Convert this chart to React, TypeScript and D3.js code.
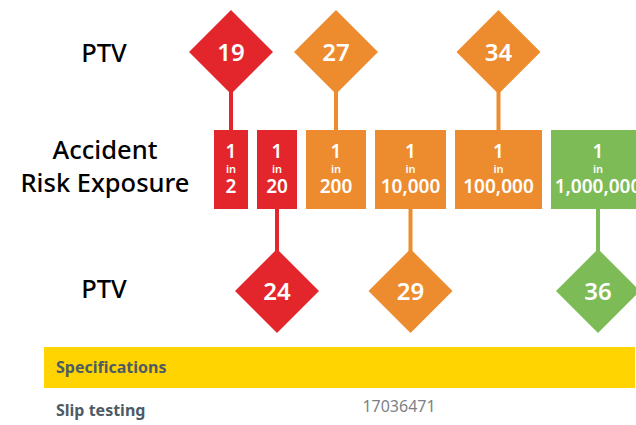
import React, { useEffect, useRef } from 'react';
import * as d3 from 'd3';

// risk exposure "1 in N" boxes
const riskDenominators = ['2', '20', '200', '10,000', '100,000', '1,000,000'];
const riskLevels = ['high', 'high', 'medium', 'medium', 'medium', 'low'];
// PTV value for each box, and whether the diamond sits above or below
const ptvValues = [19, 24, 27, 29, 34, 36];
const ptvSides = ['top', 'bottom', 'top', 'bottom', 'top', 'bottom'];
// spec table
const specHeader = 'Specifications';
const specNames = ['Slip testing'];
const specValues = ['17036471'];

const App: React.FC = () => {
  const svgRef = useRef<SVGSVGElement>(null);

  useEffect(() => {
    if (!svgRef.current) return;
    const svg = d3.select(svgRef.current);
    svg.selectAll('*').remove();

    const font = 'Noto Sans, sans-serif';
    const boxWidths = [34, 40, 60, 71, 87, 94];
    const gap = 9;
    const x0 = 214;
    const boxTop = 130;
    const boxBottom = 209;
    const topY = 52;
    const bottomY = 291;
    const half = 42;

    const color = d3.scaleOrdinal<string, string>()
      .domain(['high', 'medium', 'low'])
      .range(['#e3262b', '#ed8c2f', '#7cbb55']);

    const starts = boxWidths.map((w, i) => x0 + d3.sum(boxWidths.slice(0, i)) + gap * i);
    const data = riskDenominators.map((d, i) => ({
      label: d,
      level: riskLevels[i],
      ptv: ptvValues[i],
      side: ptvSides[i],
      x: starts[i],
      w: boxWidths[i],
      cx: starts[i] + boxWidths[i] / 2,
    }));

    // left labels
    const left = svg.append('g')
      .attr('font-family', font)
      .attr('font-weight', 500)
      .attr('font-size', 25.5)
      .attr('fill', '#000')
      .attr('text-anchor', 'middle');
    left.append('text').attr('x', 104).attr('y', 62).text('PTV');
    left.append('text').attr('x', 105).attr('y', 159).text('Accident');
    left.append('text').attr('x', 105).attr('y', 192).text('Risk Exposure');
    left.append('text').attr('x', 104).attr('y', 298).text('PTV');

    // connector stems
    svg.append('g')
      .selectAll('line')
      .data(data)
      .join('line')
      .attr('x1', d => d.cx)
      .attr('x2', d => d.cx)
      .attr('y1', d => d.side === 'top' ? topY : boxBottom - 2)
      .attr('y2', d => d.side === 'top' ? boxTop + 2 : bottomY)
      .attr('stroke', d => color(d.level))
      .attr('stroke-width', 4);

    // boxes
    const boxes = svg.append('g')
      .selectAll('g')
      .data(data)
      .join('g');
    boxes.append('rect')
      .attr('x', d => d.x)
      .attr('y', boxTop)
      .attr('width', d => d.w)
      .attr('height', boxBottom - boxTop)
      .attr('fill', d => color(d.level));
    const bt = boxes.append('text')
      .attr('font-family', font)
      .attr('font-weight', 600)
      .attr('fill', '#fff')
      .attr('text-anchor', 'middle');
    bt.append('tspan').attr('x', d => d.cx).attr('y', 158).attr('font-size', 19).text('1');
    bt.append('tspan').attr('x', d => d.cx).attr('y', 173).attr('font-size', 11).text('in');
    bt.append('tspan').attr('x', d => d.cx).attr('y', 193).attr('font-size', 19).text(d => d.label);

    // diamonds
    const diamond = (cx: number, cy: number) =>
      `M${cx},${cy - half}L${cx + half},${cy}L${cx},${cy + half}L${cx - half},${cy}Z`;
    const dg = svg.append('g')
      .selectAll('g')
      .data(data)
      .join('g');
    dg.append('path')
      .attr('d', d => diamond(d.cx, d.side === 'top' ? topY : bottomY))
      .attr('fill', d => color(d.level));
    dg.append('text')
      .attr('x', d => d.cx)
      .attr('y', d => (d.side === 'top' ? topY : bottomY) + 9)
      .attr('text-anchor', 'middle')
      .attr('font-family', font)
      .attr('font-weight', 600)
      .attr('font-size', 24)
      .attr('fill', '#fff')
      .text(d => d.ptv);

    // spec table
    svg.append('rect')
      .attr('x', 44)
      .attr('y', 347)
      .attr('width', 591)
      .attr('height', 41)
      .attr('fill', '#ffd400');
    svg.append('text')
      .attr('x', 56)
      .attr('y', 373)
      .attr('font-family', font)
      .attr('font-weight', 700)
      .attr('font-size', 16)
      .attr('fill', '#4d5b66')
      .text(specHeader);
    specNames.forEach((name, i) => {
      svg.append('text')
        .attr('x', 56)
        .attr('y', 416 + i * 30)
        .attr('font-family', font)
        .attr('font-weight', 700)
        .attr('font-size', 16)
        .attr('fill', '#4d5b66')
        .text(name);
      svg.append('text')
        .attr('x', 399)
        .attr('y', 412 + i * 30)
        .attr('text-anchor', 'middle')
        .attr('font-family', font)
        .attr('font-size', 16)
        .attr('fill', '#7a8288')
        .text(specValues[i]);
    });
  }, []);

  return (
    <div style={{ position: 'absolute', left: 0, top: 0 }}>
      <svg ref={svgRef} width={636} height={425} style={{ display: 'block' }}></svg>
    </div>
  );
};

export default App;
